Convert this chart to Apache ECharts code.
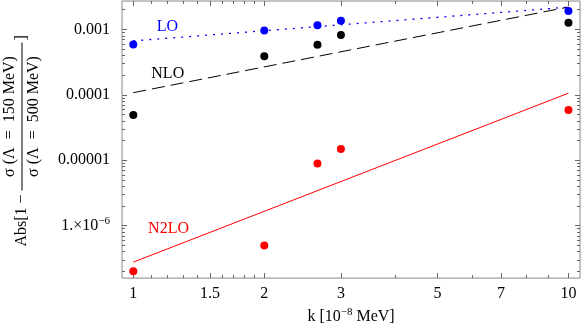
<!DOCTYPE html>
<html>
<head>
<meta charset="utf-8">
<script src="https://cdn.jsdelivr.net/npm/echarts@6/dist/echarts.min.js"></script>
<style>
html, body { margin: 0; padding: 0; background: #fff; }
#chart { width: 581px; height: 330px; }
</style>
</head>
<body>
<div id="chart"></div>
<script>
// data
const kValues = [1, 2, 2.65, 3, 10]
const loValues = [5.9e-4, 9.66e-4, 1.16e-3, 1.36e-3, 1.92e-3]
const nloValues = [4.94e-5, 3.9e-4, 5.82e-4, 8.2e-4, 1.26e-3]
const n2loValues = [2.01e-7, 4.99e-7, 8.9e-6, 1.48e-5, 5.86e-5]

// fitted lines (end points at k = 1 and k = 10)
const fitK = [1, 10]
const loFit = [6.68e-4, 2.19e-3]
const nloFit = [1.08e-4, 2.2e-3]
const n2loFit = [2.77e-7, 1.06e-4]

// curve labels
const curveNames = ['LO', 'NLO', 'N2LO']
const curveLabelK = [1.198, 1.2, 1.205]
const curveLabelY = [1.09e-3, 2.12e-4, 9.0e-7]

// axes
const xRange = [0.942, 10.63]
const yRange = [1.58e-7, 2.72e-3]
const xMajorTicks = [1, 1.5, 2, 3, 5, 7, 10]
const xMinorTicks = [1.1, 1.2, 1.3, 1.4, 1.6, 1.7, 1.8, 1.9, 4, 6, 8, 9]
const yMajorTicks = [1e-7, 1e-6, 1e-5, 1e-4, 1e-3]
const yTickLabels = ['', '{m|1.×10}{s|−6}', '0.00001', '0.0001', '0.001']
const yMinorTicks = []
for (let n = -7; n <= -3; n++) {
  for (let k = 2; k <= 9; k++) yMinorTicks.push(Number((k * Math.pow(10, n)).toPrecision(3)))
}

const FONT = 'Liberation Serif'
const frameColor = '#888'
const tickColor = '#666'
const blue = '#0000ff'
const red = '#ff0000'

function makeAxis(dir, pos, ticks, len, withLabels) {
  const range = dir === 'x' ? xRange : yRange
  const ax = {
    type: 'log',
    position: pos,
    min: range[0],
    max: range[1],
    axisLine: { show: false },
    splitLine: { show: false },
    axisTick: {
      show: true,
      inside: true,
      length: len,
      customValues: ticks,
      lineStyle: { color: tickColor, width: 1 },
    },
    axisLabel: { show: false, customValues: ticks },
  }
  if (withLabels) {
    ax.axisLabel = {
      show: true,
      customValues: ticks,
      fontFamily: FONT,
      fontSize: 16,
      color: '#000',
      margin: dir === 'x' ? 8 : 12,
    }
    if (dir === 'y') {
      ax.axisLabel.formatter = (v) => {
        const i = yMajorTicks.findIndex((t) => Math.abs(Math.log10(t) - Math.log10(v)) < 1e-6)
        return i >= 0 ? yTickLabels[i] : ''
      }
      ax.axisLabel.rich = {
        m: { fontFamily: FONT, fontSize: 16, color: '#000' },
        s: { fontFamily: FONT, fontSize: 11, color: '#000', padding: [0, 0, 9, 0] },
      }
    } else {
      ax.axisLabel.formatter = (v) => String(v)
    }
  }
  return ax
}

const xAxes = [
  makeAxis('x', 'bottom', xMajorTicks, 5, true),
  makeAxis('x', 'bottom', xMinorTicks, 3, false),
  makeAxis('x', 'top', xMajorTicks, 5, false),
  makeAxis('x', 'top', xMinorTicks, 3, false),
]
xAxes[0].name = '{a|k [10}{s|−8}{a| MeV]}'
xAxes[0].nameLocation = 'middle'
xAxes[0].nameGap = 20
xAxes[0].nameTextStyle = {
  rich: {
    a: { fontFamily: FONT, fontSize: 16, color: '#000' },
    s: { fontFamily: FONT, fontSize: 11, color: '#000', padding: [0, 0, 9, 0] },
  },
}

const yAxes = [
  makeAxis('y', 'left', yMajorTicks, 5, true),
  makeAxis('y', 'left', yMinorTicks, 3, false),
  makeAxis('y', 'right', yMajorTicks, 5, false),
  makeAxis('y', 'right', yMinorTicks, 3, false),
]

const pairs = (xs, ys) => xs.map((x, i) => [x, ys[i]])

const chart = echarts.init(document.getElementById('chart'), null, { renderer: 'canvas' })

const gridLeft = 122
const gridTop = 1
const gridBottom = 46

const dot = (color) => ({ color: color, opacity: 1 })

const option = {
  animation: false,
  backgroundColor: '#fff',
  grid: {
    left: gridLeft,
    right: 1,
    top: gridTop,
    bottom: gridBottom,
    show: true,
    borderColor: frameColor,
    borderWidth: 1,
    backgroundColor: 'transparent',
  },
  xAxis: xAxes,
  yAxis: yAxes,
  series: [
    {
      type: 'line',
      data: pairs(fitK, loFit),
      symbol: 'none',
      lineStyle: { color: blue, width: 1.3, type: [2, 6] },
      z: 2,
    },
    {
      type: 'line',
      data: pairs(fitK, nloFit),
      symbol: 'none',
      lineStyle: { color: '#000', width: 1, type: [13, 6] },
      z: 2,
    },
    {
      type: 'line',
      data: pairs(fitK, n2loFit),
      symbol: 'none',
      lineStyle: { color: red, width: 1 },
      z: 2,
    },
    {
      type: 'scatter',
      data: pairs(kValues, loValues),
      symbolSize: 8,
      itemStyle: dot(blue),
      z: 3,
    },
    {
      type: 'scatter',
      data: pairs(kValues, nloValues),
      symbolSize: 8,
      itemStyle: dot('#000'),
      z: 3,
    },
    {
      type: 'scatter',
      data: pairs(kValues, n2loValues),
      symbolSize: 8,
      itemStyle: dot(red),
      z: 3,
    },
  ],
}
chart.setOption(option)

// curve labels and the rotated y title
const labelColors = [blue, '#000', red]
const graphics = curveNames.map((name, i) => {
  const p = chart.convertToPixel({ xAxisIndex: 0, yAxisIndex: 0 }, [curveLabelK[i], curveLabelY[i]])
  return {
    type: 'text',
    x: p[0],
    y: p[1],
    style: {
      text: name,
      fill: labelColors[i],
      font: '16px "Liberation Serif"',
      align: 'center',
      verticalAlign: 'middle',
    },
  }
})

const titleFont = '16px "Liberation Serif"'
const midY = gridTop + (330 - gridTop - gridBottom) / 2
graphics.push({
  type: 'group',
  x: 22,
  y: midY + 104,
  rotation: Math.PI / 2,
  children: [
    { type: 'text', x: 0, y: 0, style: { text: 'Abs[1 −', font: titleFont, fill: '#000', align: 'left', verticalAlign: 'middle' } },
    { type: 'line', shape: { x1: 56, y1: 0, x2: 204, y2: 0 }, style: { stroke: '#000', lineWidth: 1 } },
    { type: 'text', x: 130, y: -12, style: { text: 'σ (Λ\u2002=\u2002150 MeV)', font: titleFont, fill: '#000', align: 'center', verticalAlign: 'middle' } },
    { type: 'text', x: 130, y: 12, style: { text: 'σ (Λ\u2002=\u2002500 MeV)', font: titleFont, fill: '#000', align: 'center', verticalAlign: 'middle' } },
    { type: 'text', x: 206, y: 0, style: { text: ']', font: titleFont, fill: '#000', align: 'left', verticalAlign: 'middle' } },
  ],
})
chart.setOption({ graphic: graphics })
</script>
</body>
</html>
